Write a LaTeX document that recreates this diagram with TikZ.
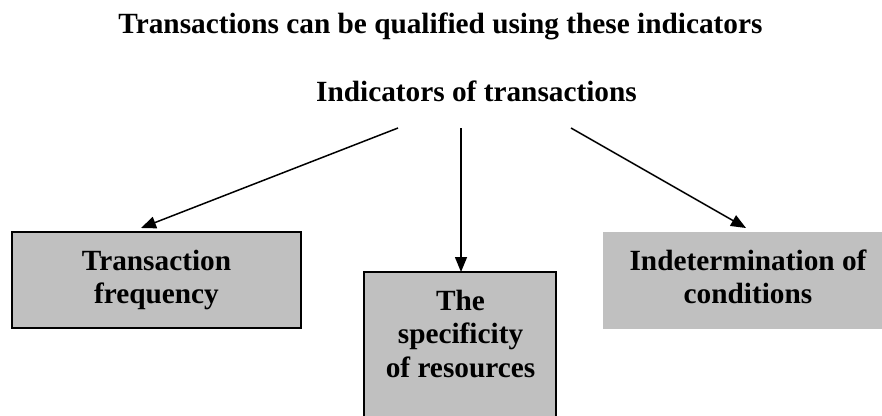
\documentclass[tikz,border=0pt]{standalone}
\usepackage{fontspec}
\setmainfont{Liberation Serif}
\usetikzlibrary{arrows.meta}
\definecolor{boxgray}{HTML}{C0C0C0}
\begin{document}
\begin{tikzpicture}[x=1pt,y=-1pt,
  txt/.style={font=\fontsize{29.3}{33.5}\selectfont\bfseries, inner sep=0pt, anchor=base},
  graybox/.style={fill=boxgray, draw=black, line width=1.5pt, inner sep=0pt},
  plainbox/.style={fill=boxgray, draw=none, inner sep=0pt},
  arr/.style={line width=1.5pt, -{Triangle[length=15pt,width=12pt]}}]
\useasboundingbox (0,0) rectangle (882,415);
% boxes
\path[graybox] (12,232) rectangle (301,328);
\node[minimum width=289pt, minimum height=96pt, inner sep=0pt] (bl) at (156.5,280) {};
\path[graybox] (364,272) rectangle (556,420);
\node[minimum width=192pt, minimum height=143pt, inner sep=0pt] (bm) at (460,343.5) {};
\path[plainbox] (603,232) rectangle (882,329);
\node[minimum width=279pt, minimum height=97pt, inner sep=0pt] (br) at (742.5,280.5) {};
% texts
\node[txt] (title) at (440.5,33) {Transactions can be qualified using these indicators};
\node[txt] (ind) at (476.5,101) {Indicators of transactions};
\node[txt] (t1a) at (156.5,270) {Transaction};
\node[txt] (t1b) at (156.5,303) {frequency};
\node[txt] (t2a) at (460.5,310) {The};
\node[txt] (t2b) at (460.5,343) {specificity};
\node[txt] (t2c) at (460.5,377) {of resources};
\node[txt] (t3a) at (748,270) {Indetermination of};
\node[txt] (t3b) at (748,303) {conditions};
% arrows
\coordinate (s1) at (398,128);
\coordinate (s2) at (461,128);
\coordinate (s3) at (571,128);
\coordinate (e1) at (141,228);
\coordinate (e2) at (461,272);
\coordinate (e3) at (746,228);
\draw[arr] (s1) -- (e1);
\draw[arr] (s2) -- (e2);
\draw[arr] (s3) -- (e3);
\end{tikzpicture}
\end{document}
